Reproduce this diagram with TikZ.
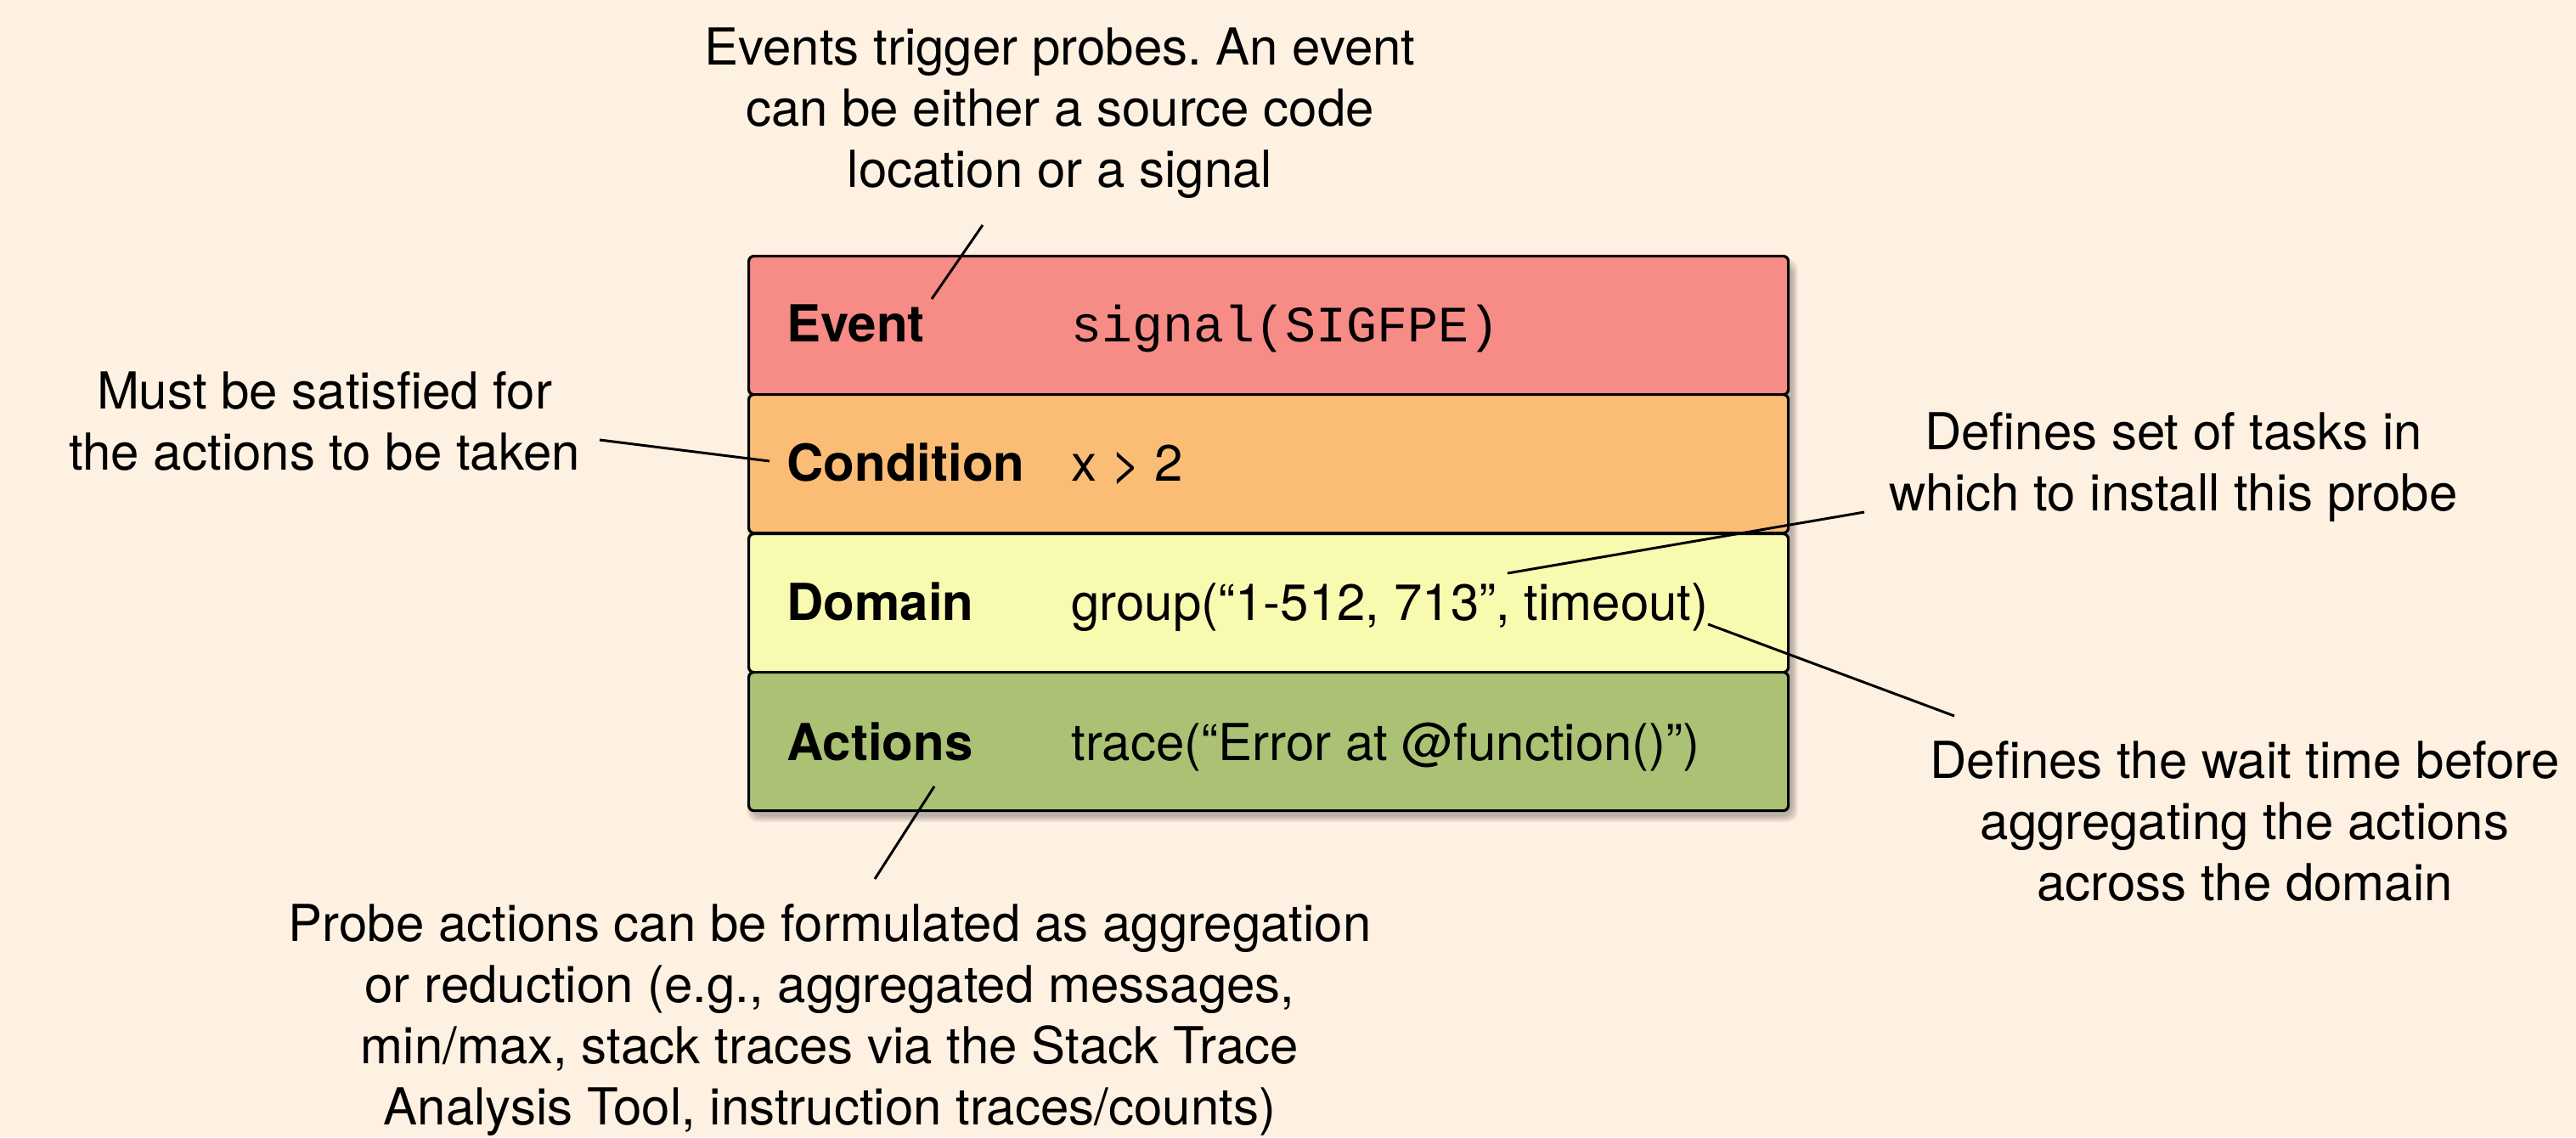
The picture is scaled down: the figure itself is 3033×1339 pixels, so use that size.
\documentclass[tikz,border=0pt]{standalone}
\usepackage{fontspec}
\setmainfont{TeX Gyre Heros}
\setmonofont{Liberation Mono}
\frenchspacing
\definecolor{paper}{RGB}{254,241,226}
\definecolor{evtfill}{RGB}{247,139,134}
\definecolor{condfill}{RGB}{251,189,118}
\definecolor{domfill}{RGB}{248,250,176}
\definecolor{actfill}{RGB}{171,193,116}
\tikzset{
  band/.style={draw=black, line width=1.6pt, rounded corners=3pt,
    minimum width=612pt, minimum height=81.5pt, anchor=north west, inner sep=0pt},
  rowlabel/.style={font=\fontsize{30}{36}\selectfont\bfseries, anchor=base west, inner sep=0pt},
  rowvalue/.style={font=\fontsize{30}{36}\selectfont, anchor=base west, inner sep=0pt},
  rowcode/.style={font=\fontsize{30}{36}\selectfont\ttfamily, anchor=base west, inner sep=0pt},
  note/.style={font=\fontsize{30}{36}\selectfont, align=center, inner sep=0pt},
  leader/.style={draw=black, line width=1.5pt}
}
\begin{document}
\begin{tikzpicture}[x=0.5pt,y=-0.5pt]
\fill[paper] (0,0) rectangle (3033,1339);
\useasboundingbox (0,0) rectangle (3033,1339);

% soft shadow under the probe stack
\foreach \i in {0,...,7}
  \fill[black, opacity=0.035, rounded corners=6pt]
    (886-\i,312-\i) rectangle (2110+\i,961+\i);

% the four bands of the probe
\node[band, fill=evtfill]  (event)  at (880,300) {};
\node[band, fill=condfill] (cond)   at (880,463) {};
\node[band, fill=domfill]  (domain) at (880,627) {};
\node[band, fill=actfill]  (acts)   at (880,790) {};

\node[rowlabel] (eventlab) at (926,402) {Event};
\node[rowcode]  (eventval) at (1261,402) {signal(SIGFPE)};
\node[rowlabel] (condlab)  at (926,566) {Condition};
\node[rowvalue] (condval)  at (1261,566) {x > 2};
\node[rowlabel] (domlab)   at (926,730) {Domain};
\node[rowvalue] (domval)   at (1261,730) {group(“1-512, 713”, timeout)};
\node[rowlabel] (actlab)   at (926,895) {Actions};
\node[rowvalue] (actval)   at (1261,895) {trace(“Error at @function()”)};

% explanatory notes
\node[note] (noteevent) at (1248,133)
  {Events trigger probes. An event\\can be either a source code\\location or a signal};
\node[note] (notecond) at (382,496)
  {Must be satisfied for\\the actions to be taken};
\node[note] (notedom) at (2559,550)
  {Defines set of tasks in\\which to install this probe};
\node[note] (notewait) at (2643,967)
  {Defines the wait time before\\aggregating the actions\\across the domain};
\node[note] (noteact) at (977,1201)
  {Probe actions can be formulated as aggregation\\or reduction (e.g., aggregated messages,\\min/max, stack traces via the Stack Trace\\Analysis Tool, instruction traces/counts)};

% leader lines
\coordinate (evA) at (1157,265);
\coordinate (evB) at (1097,352);
\coordinate (cdA) at (706,518);
\coordinate (cdB) at (906,543);
\coordinate (dmA) at (2195,603);
\coordinate (dmB) at (1775,675);
\coordinate (wtA) at (2011,735);
\coordinate (wtB) at (2301,843);
\coordinate (acA) at (1100,926);
\coordinate (acB) at (1030,1035);
\draw[leader] (evA) -- (evB);
\draw[leader] (cdA) -- (cdB);
\draw[leader] (dmA) -- (dmB);
\draw[leader] (wtA) -- (wtB);
\draw[leader] (acA) -- (acB);
\end{tikzpicture}
\end{document}
